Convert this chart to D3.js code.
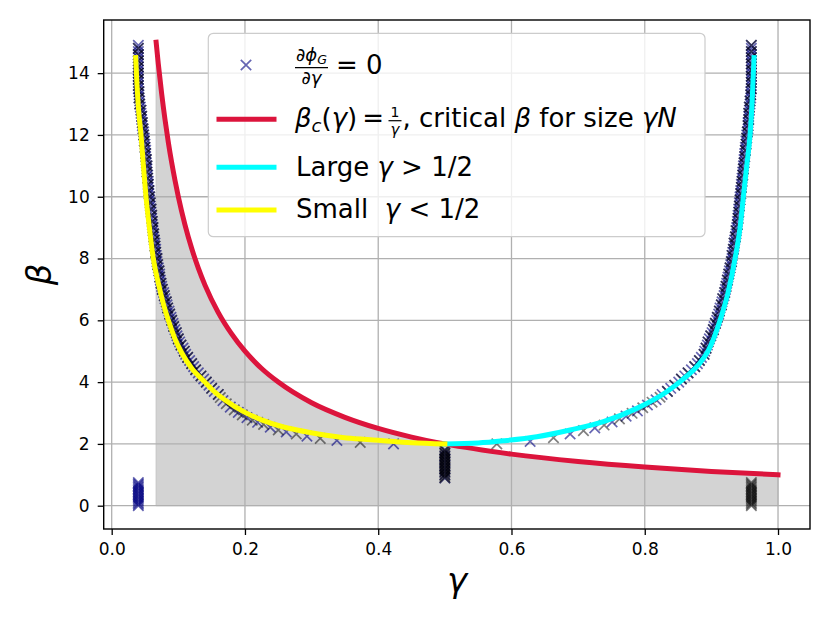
<!DOCTYPE html>
<html><head><meta charset="utf-8">
<script src="https://cdn.jsdelivr.net/npm/d3@7"></script>
<style>
body{margin:0;background:#fff}
svg{display:block}
text{font-family:"DejaVu Sans",sans-serif;fill:#000}
</style>
</head><body>
<svg id="chart" width="830" height="623"></svg>
<script>
// ---------- data ----------
const xTicks = [0.0, 0.2, 0.4, 0.6, 0.8, 1.0];
const yTicks = [0, 2, 4, 6, 8, 10, 12, 14];

// critical beta_c = 1/gamma
const criticalGamma = [0.0667,0.07,0.075,0.08,0.085,0.09,0.095,0.1,0.11,0.12,0.13,0.14,0.16,0.18,0.2,0.225,0.25,0.3,0.35,0.4,0.45,0.5,0.6,0.7,0.8,0.9,1.0];
const criticalBeta  = [15,14.29,13.33,12.5,11.76,11.11,10.53,10,9.09,8.33,7.69,7.14,6.25,5.56,5,4.44,4,3.33,2.86,2.5,2.22,2,1.67,1.43,1.25,1.11,1.0];

// Small gamma < 1/2 (yellow)
const smallGamma = [0.036,0.038,0.040,0.044,0.048,0.0515,0.056,0.0625,0.070,0.078,0.085,0.095,0.105,0.12,0.14,0.1525,0.17,0.20,0.225,0.2526,0.28,0.31,0.3527,0.40,0.45,0.50];
const smallBeta  = [14.5,13.6,12.9,12.0,10.9,10.0,9.1,8.0,7.2,6.5,6.0,5.4,4.95,4.45,4.0,3.72,3.42,3.02,2.78,2.58,2.44,2.32,2.19,2.12,2.04,2.0];

// Large gamma > 1/2 (cyan)
const largeGamma = [0.50,0.55,0.588,0.638,0.688,0.738,0.788,0.833,0.855,0.88,0.895,0.913,0.925,0.9355,0.943,0.948,0.953,0.958,0.961,0.964];
const largeBeta  = [2.0,2.03,2.10,2.23,2.45,2.72,3.15,3.69,4.05,4.55,5.0,6.0,6.9,8.0,9.0,10.0,11.0,12.0,13.0,14.5];

// numerical solutions d(phi_G)/d(gamma) = 0 : steep parts of both branches
const steepBeta = [3.6,3.7,3.8,3.9,4.0,4.1,4.2,4.3,4.4,4.5,4.6,4.7,4.8,4.9,5.0,5.1,5.2,5.3,5.4,5.5,5.6,5.7,5.8,5.9,6.0,6.1,6.2,6.3,6.4,6.5,6.6,6.7,6.8,6.9,7.0,7.1,7.2,7.3,7.4,7.5,7.6,7.7,7.8,7.9,8.0,8.1,8.2,8.3,8.4,8.5,8.6,8.7,8.8,8.9,9.0,9.1,9.2,9.3,9.4,9.5,9.6,9.7,9.8,9.9,10.0,10.1,10.2,10.3,10.4,10.5,10.6,10.7,10.8,10.9,11.0,11.1,11.2,11.3,11.4,11.5,11.6,11.7,11.8,11.9,12.0,12.1,12.2,12.3,12.4,12.5,12.6,12.7,12.8,12.9,13.0,13.1,13.2,13.3,13.4,13.5,13.6,13.7,13.8,13.9,14.0,14.1,14.2,14.3,14.4,14.5,14.6,14.7,14.8,14.9];
const leftSteepGamma = [0.160,0.154,0.150,0.146,
 0.142,0.138,0.134,0.130,0.126,0.123,0.120,0.117,0.114,0.111,
 0.109,0.107,0.104,0.102,0.100,0.098,0.097,0.095,0.093,0.092,
 0.090,0.089,0.087,0.086,0.084,0.083,0.082,0.080,0.079,0.078,
 0.076,0.075,0.074,0.073,0.072,0.072,0.071,0.070,0.069,0.068,
 0.068,0.067,0.066,0.066,0.065,0.065,0.064,0.063,0.063,0.062,
 0.062,0.061,0.061,0.060,0.060,0.059,0.059,0.058,0.058,0.057,
 0.057,0.056,0.056,0.055,0.055,0.055,0.054,0.054,0.053,0.053,
 0.053,0.052,0.052,0.051,0.051,0.051,0.050,0.050,0.049,0.049,
 0.048,0.048,0.047,0.046,0.046,0.045,0.045,0.044,0.044,0.043,
 0.042,0.042,0.041,0.041,0.041,0.040,0.040,0.040,0.040,0.040,
 0.040,0.040,0.040,0.040,0.040,0.040,0.040,0.040,0.040,0.040];
const rightSteepGamma = [0.826,0.834,0.839,0.845,
 0.851,0.855,0.860,0.865,0.870,0.875,0.879,0.882,0.885,0.889,
 0.890,0.892,0.894,0.895,0.897,0.899,0.901,0.903,0.904,0.906,
 0.908,0.909,0.911,0.912,0.913,0.915,0.916,0.917,0.919,0.920,
 0.921,0.922,0.923,0.924,0.925,0.926,0.927,0.928,0.929,0.930,
 0.931,0.931,0.932,0.933,0.934,0.934,0.935,0.936,0.937,0.937,
 0.938,0.939,0.939,0.940,0.940,0.941,0.941,0.942,0.942,0.943,
 0.943,0.944,0.944,0.945,0.945,0.946,0.946,0.947,0.947,0.948,
 0.948,0.949,0.949,0.950,0.950,0.951,0.951,0.952,0.952,0.953,
 0.953,0.954,0.955,0.955,0.955,0.956,0.956,0.956,0.957,0.957,
 0.958,0.958,0.959,0.959,0.959,0.960,0.960,0.960,0.960,0.960,
 0.960,0.960,0.960,0.960,0.960,0.960,0.960,0.960,0.960,0.960];

// flat parts (gamma, beta)
const leftFlat = [[0.423,2.00],[0.373,2.05],[0.338,2.11],[0.313,2.18],[0.293,2.25],[0.277,2.32],[0.262,2.39],[0.250,2.45],[0.238,2.54],[0.228,2.63],[0.219,2.70],[0.211,2.77],[0.203,2.85],[0.196,2.94],[0.190,3.02],[0.184,3.10],[0.178,3.19],[0.172,3.30],[0.167,3.40],[0.163,3.50]];
const rightFlat = [[0.578,2.00],[0.628,2.08],[0.663,2.20],[0.688,2.32],[0.708,2.43],[0.725,2.52],[0.739,2.61],[0.751,2.71],[0.762,2.81],[0.772,2.90],[0.781,2.99],[0.789,3.07],[0.797,3.17],[0.804,3.26],[0.811,3.35],[0.817,3.43],[0.823,3.51]];

// vertical clusters of solutions
const edgeGammaLeft = 0.040, edgeGammaRight = 0.960, midGamma = 0.500;
const edgeBeta = [0.0,0.05,0.1,0.15,0.2,0.25,0.3,0.35,0.4,0.45,0.5,0.55,0.6,0.65,0.7,0.75];
const midBeta = [0.9,0.95,1.0,1.05,1.1,1.15,1.2,1.25,1.3,1.35,1.4,1.45,1.5,1.55,1.6,1.65,1.7,1.75,1.8];

// ---------- layout ----------
const svg = d3.select("#chart");
const L = 103.7, R = 810, T = 20, B = 529;
const x = d3.scaleLinear().domain([-0.012, 1.048]).range([L, R]);
const y = d3.scaleLinear().domain([-0.754, 15.72]).range([B, T]);

svg.append("defs").append("clipPath").attr("id","clip").append("rect")
  .attr("x",L).attr("y",T).attr("width",R-L).attr("height",B-T);

const plot = svg.append("g").attr("clip-path","url(#clip)");

// fill under critical curve
const crit = criticalGamma.map((g,i)=>[g, criticalBeta[i]]);
plot.append("path").datum(crit)
  .attr("d", d3.area().x(d=>x(d[0])).y0(y(0)).y1(d=>y(d[1])).curve(d3.curveMonotoneX))
  .attr("fill","#d3d3d3").attr("stroke","#c4c4c4").attr("stroke-width",1);

// grid
const grid = plot.append("g");
grid.selectAll("line.gx").data(xTicks).join("line")
  .attr("x1",d=>x(d)).attr("x2",d=>x(d)).attr("y1",T).attr("y2",B)
  .attr("stroke","#b0b0b0").attr("stroke-width",1.3);
grid.selectAll("line.gy").data(yTicks).join("line")
  .attr("y1",d=>y(d)).attr("y2",d=>y(d)).attr("x1",L).attr("x2",R)
  .attr("stroke","#b0b0b0").attr("stroke-width",1.3);

// markers
const blue = [], black = [];
steepBeta.forEach((b,i)=>{
  blue.push([leftSteepGamma[i], b]);
  blue.push([rightSteepGamma[i], b]);
  if (i%2===0) black.push([leftSteepGamma[i], b]);
  else black.push([rightSteepGamma[i], b]);
});
leftFlat.forEach((p,i)=>(i%2 ? black : blue).push(p));
rightFlat.forEach((p,i)=>(i%2 ? blue : black).push(p));
edgeBeta.forEach(b=>{ blue.push([edgeGammaLeft,b]); black.push([edgeGammaRight,b]); });
midBeta.forEach((b,i)=>{ black.push([midGamma,b]); if(i%2===0) blue.push([midGamma,b]); });

const xPath = "M-5.2,-5.2L5.2,5.2M-5.2,5.2L5.2,-5.2";
function drawMarkers(pts, color, op){
  plot.append("g").selectAll("path").data(pts).join("path")
    .attr("d", xPath)
    .attr("transform", d=>`translate(${x(d[0])},${y(d[1])})`)
    .attr("fill","none").attr("stroke",color).attr("stroke-opacity",op).attr("stroke-width",1.7);
}
drawMarkers(blue, "#000080", 0.6);
drawMarkers(black, "#000000", 0.5);

// curves
const line = d3.line().x(d=>x(d[0])).y(d=>y(d[1])).curve(d3.curveMonotoneX);
plot.append("path").datum(crit).attr("d", line)
  .attr("fill","none").attr("stroke","#dc143c").attr("stroke-width",5).attr("stroke-linecap","square");
plot.append("path").datum(largeGamma.map((g,i)=>[g, largeBeta[i]])).attr("d", line)
  .attr("fill","none").attr("stroke","#00ffff").attr("stroke-width",5).attr("stroke-linecap","square");
plot.append("path").datum(smallGamma.map((g,i)=>[g, smallBeta[i]])).attr("d", line)
  .attr("fill","none").attr("stroke","#ffff00").attr("stroke-width",5).attr("stroke-linecap","square");

// axes
const xAxis = svg.append("g").attr("transform",`translate(0,${B})`)
  .call(d3.axisBottom(x).tickValues(xTicks).tickFormat(d3.format(".1f")).tickSize(6).tickPadding(8));
const yAxis = svg.append("g").attr("transform",`translate(${L},0)`)
  .call(d3.axisLeft(y).tickValues(yTicks).tickFormat(d3.format("d")).tickSize(6).tickPadding(8));
[xAxis,yAxis].forEach(a=>{
  a.select(".domain").remove();
  a.selectAll(".tick line").attr("stroke","#000").attr("stroke-width",1.3);
  a.selectAll(".tick text").attr("font-family","DejaVu Sans").attr("font-size",17).attr("fill","#000");
});

// spines
svg.append("rect").attr("x",L).attr("y",T).attr("width",R-L).attr("height",B-T)
  .attr("fill","none").attr("stroke","#000").attr("stroke-width",1.4);

// axis labels
svg.append("text").attr("x",457).attr("y",592).attr("text-anchor","middle")
  .attr("font-size",34).attr("font-style","italic").text("γ");
svg.append("text").attr("transform","translate(51,274.5) rotate(-90)").attr("text-anchor","middle")
  .attr("font-size",34).attr("font-style","italic").text("β");

// ---------- legend ----------
const lg = svg.append("g");
lg.append("rect").attr("x",208.3).attr("y",33.3).attr("width",496.7).attr("height",203.4)
  .attr("rx",5).attr("fill","#fff").attr("fill-opacity",0.8).attr("stroke","#cccccc").attr("stroke-width",1.2);

lg.append("path").attr("d",xPath).attr("transform","translate(246,65)")
  .attr("fill","none").attr("stroke","#000080").attr("stroke-opacity",0.6).attr("stroke-width",1.7);
[["#dc143c",119.3],["#00ffff",167.3],["#ffff00",210]].forEach(([c,yy])=>{
  lg.append("line").attr("x1",219).attr("x2",274).attr("y1",yy).attr("y2",yy)
    .attr("stroke",c).attr("stroke-width",5).attr("stroke-linecap","square");
});

const FS = 26, SF = 18;
function txt(xx, yy, size, anchor){
  return lg.append("text").attr("x",xx).attr("y",yy).attr("font-size",size)
    .attr("text-anchor",anchor||"start").style("white-space","pre");
}
// row 1: d phi_G / d gamma = 0
const n1 = txt(311.5, 61, SF, "middle");
n1.append("tspan").text("∂");
n1.append("tspan").attr("font-style","italic").text("ϕ");
n1.append("tspan").attr("font-style","italic").attr("font-size",12.6).attr("dy",3).text("G");
lg.append("line").attr("x1",295).attr("x2",328).attr("y1",67.7).attr("y2",67.7).attr("stroke","#000").attr("stroke-width",1.2);
const d1 = txt(311.5, 83.5, SF, "middle");
d1.append("tspan").text("∂");
d1.append("tspan").attr("font-style","italic").text("γ");
txt(336, 74.3, FS).text("= 0");

// row 2: beta_c(gamma) = 1/gamma, critical beta for size gamma N
const r2 = txt(295, 126.7, FS);
r2.append("tspan").attr("font-style","italic").text("β");
r2.append("tspan").attr("font-style","italic").attr("font-size",18).attr("dy",5).text("c");
r2.append("tspan").attr("dy",-5).text("(");
r2.append("tspan").attr("font-style","italic").text("γ");
r2.append("tspan").text(")");
const r2w = r2.node().getComputedTextLength();
const eqX = 295 + r2w + 5;
const eq = txt(eqX, 126.7, FS).text("=");
const eqEnd = eqX + eq.node().getComputedTextLength();
const fc = eqEnd + 11;
txt(fc, 116.5, 14, "middle").text("1");
lg.append("line").attr("x1",fc-6.5).attr("x2",fc+6.5).attr("y1",120.7).attr("y2",120.7).attr("stroke","#000").attr("stroke-width",1.2);
txt(fc, 134.5, 15, "middle").attr("font-style","italic").text("γ");
const r2b = txt(fc + 7.5, 126.7, FS);
r2b.append("tspan").text(", critical ");
r2b.append("tspan").attr("font-style","italic").text("β");
r2b.append("tspan").text(" for size ");
r2b.append("tspan").attr("font-style","italic").text("γN");

// row 3
const r3 = txt(296, 175.7, FS);
r3.append("tspan").text("Large ");
r3.append("tspan").attr("font-style","italic").text("γ");
r3.append("tspan").text(" > 1/2");
// row 4
const r4 = txt(296, 218.3, FS);
r4.append("tspan").text("Small  ");
r4.append("tspan").attr("font-style","italic").text("γ");
r4.append("tspan").text(" < 1/2");
</script>
</body></html>
